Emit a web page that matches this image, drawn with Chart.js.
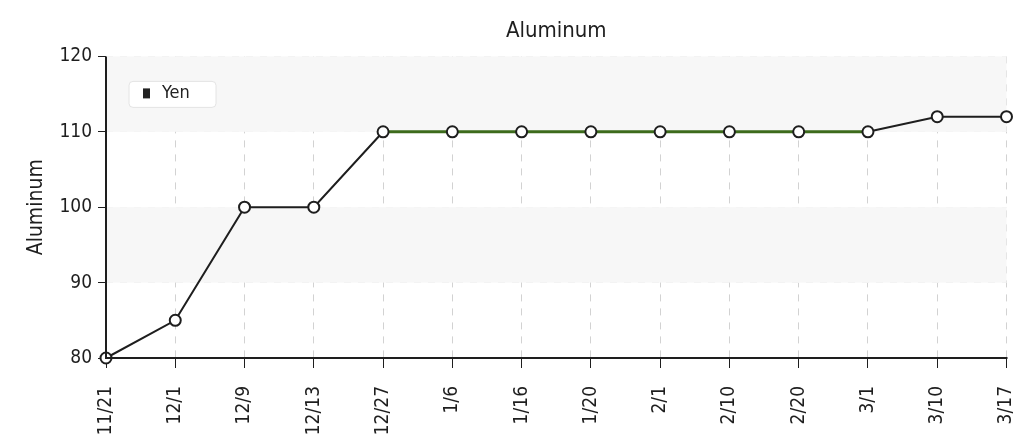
<!DOCTYPE html>
<html>
<head>
<meta charset="utf-8">
<script src="https://cdn.jsdelivr.net/npm/chart.js@4.4.0/dist/chart.umd.min.js"></script>
<style>
  html, body { margin: 0; padding: 0; background: #fff; }
  #wrap { width: 1014px; height: 439px; }
</style>
</head>
<body>
<div id="wrap"><canvas id="aluminumChart" width="1014" height="439"></canvas></div>
<script>
// chart data
const dates = ['11/21', '12/1', '12/9', '12/13', '12/27', '1/6', '1/16', '1/20', '2/1', '2/10', '2/20', '3/1', '3/10', '3/17'];
const yenPrices = [80, 85, 100, 100, 110, 110, 110, 110, 110, 110, 110, 110, 112, 112];
const yTicks = [80, 90, 100, 110, 120];

const FONT = '"DejaVu Sans Condensed", "DejaVu Sans", sans-serif';

// light gray bands behind the plot (110-120 and 90-100)
const bandPlugin = {
  id: 'bands',
  beforeDatasetsDraw(chart) {
    const { ctx, chartArea, scales } = chart;
    const y = scales.y;
    ctx.save();
    ctx.fillStyle = '#f7f7f7';
    [[110, 120], [90, 100]].forEach(([lo, hi]) => {
      const top = y.getPixelForValue(hi);
      const bot = y.getPixelForValue(lo);
      ctx.fillRect(chartArea.left, top, chartArea.right - chartArea.left, bot - top);
    });
    ctx.restore();
  }
};

// solid axis lines (grid dash would otherwise dash them too)
const axisLines = {
  id: 'axisLines',
  afterDatasetsDraw(chart) {
    const { ctx, chartArea } = chart;
    ctx.save();
    ctx.strokeStyle = '#1e1e1e';
    ctx.lineWidth = 2;
    ctx.setLineDash([]);
    ctx.beginPath();
    ctx.moveTo(chartArea.left, chartArea.top);
    ctx.lineTo(chartArea.left, chartArea.bottom);
    ctx.lineTo(chartArea.right + 1, chartArea.bottom);
    ctx.stroke();
    ctx.restore();
  }
};

// legend box drawn inside the plot, top left
const insideLegend = {
  id: 'insideLegend',
  afterDraw(chart) {
    const { ctx, chartArea } = chart;
    const label = chart.data.datasets[0].label;
    const x = chartArea.left + 23, y = chartArea.top + 25;
    ctx.save();
    ctx.fillStyle = '#fff';
    ctx.strokeStyle = '#e4e4e4';
    ctx.lineWidth = 1;
    ctx.beginPath();
    ctx.roundRect(x, y, 87, 26, 4);
    ctx.fill();
    ctx.stroke();
    ctx.fillStyle = '#222';
    ctx.fillRect(x + 14, y + 7, 7, 10);
    ctx.font = '18px ' + FONT;
    ctx.textBaseline = 'middle';
    ctx.fillText(label, x + 33, y + 12);
    ctx.restore();
  }
};

const ctx = document.getElementById('aluminumChart').getContext('2d');
const chart = new Chart(ctx, {
  type: 'line',
  data: {
    labels: dates,
    datasets: [{
      label: 'Yen',
      data: yenPrices,
      borderColor: '#1e1e1e',
      borderWidth: 2,
      pointRadius: 5.5,
      pointBorderWidth: 2,
      pointBackgroundColor: '#fff',
      pointBorderColor: '#1e1e1e',
      tension: 0,
      clip: false,
      segment: {
        borderColor: c => (c.p0DataIndex >= 4 && c.p1DataIndex <= 11) ? '#3d6b1c' : '#1e1e1e',
        borderWidth: c => (c.p0DataIndex >= 4 && c.p1DataIndex <= 11) ? 3 : 2
      }
    }]
  },
  options: {
    responsive: false,
    animation: false,
    layout: { padding: { left: 0, right: 4, top: 0, bottom: 0 } },
    plugins: {
      legend: { display: false },
      tooltip: { enabled: false },
      title: {
        display: true,
        fullSize: false,
        text: 'Aluminum',
        color: '#1e1e1e',
        font: { family: FONT, size: 22, weight: 'normal' },
        padding: { top: 18, bottom: 12 }
      }
    },
    scales: {
      x: {
        offset: false,
        grid: {
          color: '#d2d2d2',
          tickColor: '#1e1e1e',
          tickLength: 10,
          drawOnChartArea: true
        },
        border: { display: true, width: 0, dash: [7, 7] },
        ticks: {
          autoSkip: false,
          maxRotation: 90,
          minRotation: 90,
          color: '#1e1e1e',
          padding: 18,
          font: { family: FONT, size: 19 }
        },
        afterFit(scale) {
          scale.height = 81;
          scale.paddingLeft = 0;
          scale.paddingRight = 0;
        }
      },
      y: {
        min: 80,
        max: 120,
        afterBuildTicks(scale) { scale.ticks = yTicks.map(v => ({ value: v })); },
        grid: {
          color: '#ececec',
          tickColor: '#1e1e1e',
          tickLength: 8
        },
        border: { display: true, width: 0, dash: [7, 7] },
        ticks: {
          color: '#1e1e1e',
          padding: 6,
          font: { family: FONT, size: 19 }
        },
        title: {
          display: true,
          text: 'Aluminum',
          color: '#1e1e1e',
          font: { family: FONT, size: 21 },
          padding: { top: 24, bottom: 0 }
        },
        afterFit(scale) { scale.width = 106; }
      }
    }
  },
  plugins: [bandPlugin, axisLines, insideLegend]
});
</script>
</body>
</html>
